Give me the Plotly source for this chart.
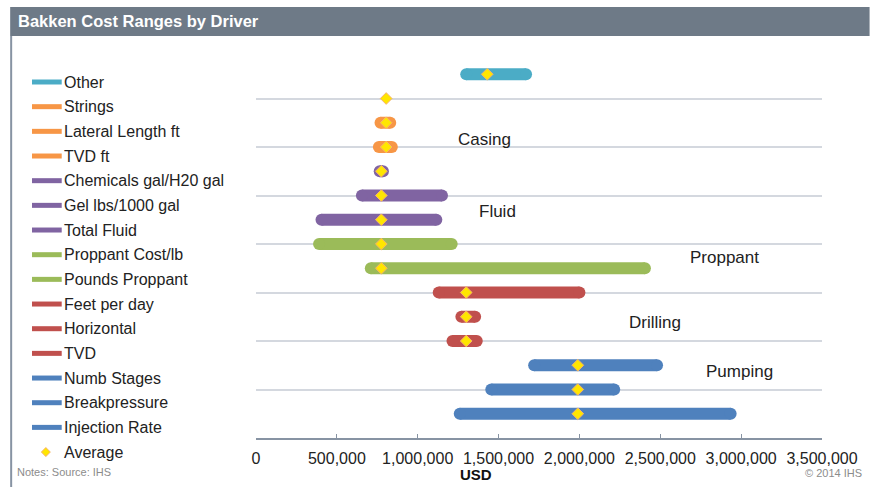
import plotly.graph_objects as go

# ---------------- data ----------------
drivers = ["Other", "Strings", "Lateral Length ft", "TVD ft", "Chemicals gal/H20 gal",
           "Gel lbs/1000 gal", "Total Fluid", "Proppant Cost/lb", "Pounds Proppant",
           "Feet per day", "Horizontal", "TVD", "Numb Stages", "Breakpressure", "Injection Rate"]
groups = ["Other", "Casing", "Casing", "Casing", "Fluid", "Fluid", "Fluid", "Proppant",
          "Proppant", "Drilling", "Drilling", "Drilling", "Pumping", "Pumping", "Pumping"]
low_usd = [1300000, None, 770000, 760000, 765000, 655000, 405000, 390000, 710000,
           1130000, 1270000, 1215000, 1720000, 1455000, 1260000]
high_usd = [1670000, None, 830000, 840000, 785000, 1150000, 1115000, 1210000, 2405000,
            2000000, 1355000, 1365000, 2480000, 2215000, 2935000]
avg_usd = [1430000, 805000, 805000, 805000, 775000, 775000, 775000, 775000, 775000,
           1300000, 1300000, 1300000, 1990000, 1990000, 1990000]
row_pos = [15, 14, 13, 12, 11, 10, 9, 8, 7, 6, 5, 4, 3, 2, 1]
x_ticks = [0, 500000, 1000000, 1500000, 2000000, 2500000, 3000000, 3500000]
group_labels = ["Casing", "Fluid", "Proppant", "Drilling", "Pumping"]

# ---------------- styles ----------------
group_colors = {"Other": "#4BACC6", "Casing": "#F79646", "Fluid": "#8064A2",
                "Proppant": "#9BBB59", "Drilling": "#C0504D", "Pumping": "#4F81BD"}
label_pos = {"Casing": (1410000, 12.3), "Fluid": (1495000, 9.35), "Proppant": (2900000, 7.45),
             "Drilling": (2470000, 4.75), "Pumping": (2990000, 2.75)}
FONT = "Liberation Sans, Arial, sans-serif"
BAR_W = 12
AVG_FILL, AVG_EDGE = "#FFE600", "#F6B26B"

W, H = 870, 487
L, R, T, B = 256, 827, 50, 438  # plot area in page pixels


def px(p):
    return (p - L) / (R - L)


def py(p):
    return (B - p) / (B - T)


fig = go.Figure()

# range bars (lines) + round caps
cap_x, cap_y, cap_c = [], [], []
for name, g, lo, hi, r in zip(drivers, groups, low_usd, high_usd, row_pos):
    col = group_colors[g]
    if lo is not None and hi is not None:
        fig.add_trace(go.Scatter(x=[lo, hi], y=[r, r], mode="lines",
                                 line=dict(color=col, width=BAR_W),
                                 showlegend=False, hoverinfo="skip"))
        cap_x += [lo, hi]
        cap_y += [r, r]
        cap_c += [col, col]
fig.add_trace(go.Scatter(x=cap_x, y=cap_y, mode="markers",
                         marker=dict(size=BAR_W, color=cap_c, line=dict(width=0)),
                         showlegend=False, hoverinfo="skip"))

# averages
fig.add_trace(go.Scatter(x=avg_usd, y=row_pos, mode="markers", name="Average",
                         showlegend=False, hoverinfo="x",
                         marker=dict(symbol="diamond", size=9, color=AVG_FILL,
                                     line=dict(color=AVG_EDGE, width=1))))

# group labels
for lab in group_labels:
    x, y = label_pos[lab]
    fig.add_annotation(x=x, y=y, xref="x", yref="y", text=lab, showarrow=False,
                       font=dict(family=FONT, size=17, color="#222222"))

# ---------------- legend (drawn by hand) ----------------
LEG_Y0, LEG_DY = 82, 24.67
for i, (name, g) in enumerate(zip(drivers, groups)):
    yy = LEG_Y0 + i * LEG_DY
    fig.add_shape(type="line", xref="paper", yref="paper", x0=px(30), x1=px(60),
                  y0=py(yy), y1=py(yy), line=dict(color=group_colors[g], width=5))
    fig.add_annotation(xref="paper", yref="paper", x=px(60), y=py(yy), xanchor="left",
                       yanchor="middle", text=name, showarrow=False,
                       font=dict(family=FONT, size=16, color="#222222"))
ya = LEG_Y0 + len(drivers) * LEG_DY
cx, d = 44, 4.5
fig.add_shape(type="path", xref="paper", yref="paper",
              path=(f"M{px(cx - d)},{py(ya)} L{px(cx)},{py(ya - d)} "
                    f"L{px(cx + d)},{py(ya)} L{px(cx)},{py(ya + d)} Z"),
              fillcolor=AVG_FILL, line=dict(color=AVG_EDGE, width=1))
fig.add_annotation(xref="paper", yref="paper", x=px(60), y=py(ya), xanchor="left",
                   yanchor="middle", text="Average", showarrow=False,
                   font=dict(family=FONT, size=16, color="#222222"))

# title bar and frame line
fig.add_shape(type="rect", xref="paper", yref="paper", x0=px(8), x1=px(875),
              y0=py(36), y1=py(7), fillcolor="#6E7A87", line=dict(width=0), layer="below")
fig.add_shape(type="line", xref="paper", yref="paper", x0=px(9), x1=px(9),
              y0=py(36), y1=py(495), line=dict(color="#8793A3", width=2))
fig.add_annotation(xref="paper", yref="paper", x=px(14), y=py(21), xanchor="left",
                   yanchor="middle", text="<b>Bakken Cost Ranges by Driver</b>",
                   showarrow=False, font=dict(family=FONT, size=16.5, color="white"))
fig.add_annotation(xref="paper", yref="paper", x=px(478), y=py(474), xanchor="center",
                   yanchor="middle", text="<b>USD</b>", showarrow=False,
                   font=dict(family=FONT, size=15, color="#111111"))
fig.add_annotation(xref="paper", yref="paper", x=px(13), y=py(472), xanchor="left",
                   yanchor="middle", text="Notes: Source: IHS", showarrow=False,
                   font=dict(family=FONT, size=11, color="#8C8C8C"))
fig.add_annotation(xref="paper", yref="paper", x=px(869), y=py(473), xanchor="right",
                   yanchor="middle", text="© 2014 IHS", showarrow=False,
                   font=dict(family=FONT, size=11, color="#8C8C8C"))

fig.update_layout(
    width=W, height=H,
    margin=dict(l=L, r=W - R, t=T, b=H - B, pad=0),
    paper_bgcolor="white", plot_bgcolor="white",
    font=dict(family=FONT, size=16, color="#222222"),
    showlegend=False,
    xaxis=dict(range=[0, 3500000], tickvals=x_ticks, tickformat=",", showgrid=False,
               zeroline=False, showline=True, linecolor="#8793A3", linewidth=1.5,
               ticks="inside", ticklen=4, tickcolor="#8793A3", tickwidth=1.2,
               ticklabelstandoff=5,
               tickfont=dict(family=FONT, size=16, color="#222222")),
    yaxis=dict(range=[0, 16], dtick=2, showticklabels=False, showgrid=True,
               gridcolor="#D4D8DF", gridwidth=1.5, zeroline=False, showline=False),
)

fig.write_html("out.html", config={"displayModeBar": False},
               post_script="document.body.style.margin='0';"
                           "document.body.style.overflow='hidden';")
